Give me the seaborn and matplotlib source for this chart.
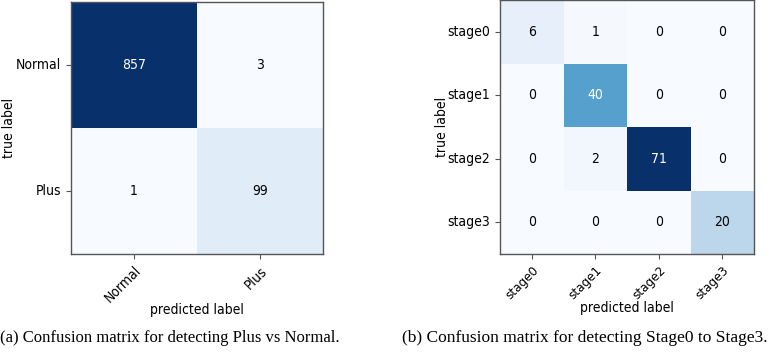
import matplotlib
matplotlib.use('Agg')
import matplotlib.pyplot as plt
import seaborn as sns
import numpy as np

# confusion matrix (a): Plus vs Normal
labels_a = ['Normal', 'Plus']
cm_a = [[857, 3],
        [1, 99]]

# confusion matrix (b): stage0 .. stage3
labels_b = ['stage0', 'stage1', 'stage2', 'stage3']
cm_b = [[6, 1, 0, 0],
        [0, 40, 0, 0],
        [0, 2, 71, 0],
        [0, 0, 0, 20]]

captions = ['(a) Confusion matrix for detecting Plus vs Normal.',
            '(b) Confusion matrix for detecting Stage0 to Stage3.']

plt.rcParams['font.family'] = ['DejaVu Sans']
plt.rcParams['font.stretch'] = 'condensed'

fig = plt.figure(figsize=(7.7, 3.54), dpi=100)
ax_a = fig.add_axes([71 / 770, 1 - 254 / 354, 252 / 770, 252 / 354])
ax_b = fig.add_axes([500 / 770, 1 - 254 / 354, 254 / 770, 254 / 354])

FS = 10


def draw_cm(ax, cm, labels, ylab_x, xlab_y, xtick_fs):
    cm = np.array(cm)
    sns.heatmap(cm, ax=ax, cmap='Blues', annot=True, fmt='d', cbar=False,
                xticklabels=labels, yticklabels=labels,
                annot_kws={'fontsize': FS})
    # white text on the dark cells
    thresh = cm.max() / 2.0
    for t, v in zip(ax.texts, cm.flatten()):
        t.set_color('white' if v > thresh else 'black')
    for s in ax.spines.values():
        s.set_visible(True)
        s.set_color('#555555')
        s.set_linewidth(1.0)
    ax.tick_params(length=3.5, width=0.8, color='#555555', labelsize=FS)
    ax.tick_params(axis='x', labelsize=xtick_fs)
    plt.setp(ax.get_xticklabels(), rotation=45, ha='right',
             rotation_mode='anchor')
    plt.setp(ax.get_yticklabels(), rotation=0)
    ax.set_xlabel('predicted label', fontsize=FS)
    ax.set_ylabel('true label', fontsize=FS)
    ax.yaxis.set_label_coords(ylab_x, 0.5)
    ax.xaxis.set_label_coords(0.5, xlab_y)
    ax.yaxis.label.set_va('center')
    ax.xaxis.label.set_va('center')


draw_cm(ax_a, cm_a, labels_a, (9 - 71) / 252, (254 - 310) / 252, FS)
draw_cm(ax_b, cm_b, labels_b, (442 - 500) / 254, (254 - 308) / 254, 9.5)

fig.text(170 / 770, 1 - 338 / 354, captions[0], ha='center', va='center',
         family='Liberation Serif', stretch='normal', fontsize=12)
fig.text(585 / 770, 1 - 338 / 354, captions[1], ha='center', va='center',
         family='Liberation Serif', stretch='normal', fontsize=12.5)

fig.savefig('out.png', dpi=100)
